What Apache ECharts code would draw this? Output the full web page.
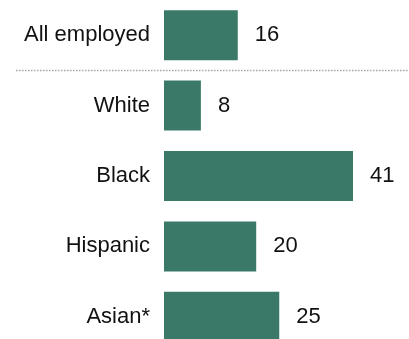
<!DOCTYPE html>
<html>
<head>
<meta charset="utf-8">
<style>
  html, body { margin: 0; padding: 0; background: #ffffff; }
  #chart { width: 409px; height: 339px; }
</style>
<script src="https://cdn.jsdelivr.net/npm/echarts@6/dist/echarts.min.js"></script>
</head>
<body>
<div id="chart"></div>
<script>
// Share of each group, in percent
const categories = ['All employed', 'White', 'Black', 'Hispanic', 'Asian*'];
const values = [16, 8, 41, 20, 25];

const FONT = '"Liberation Sans", Arial, sans-serif';
const BAR = '#3a7867';

const chart = echarts.init(document.getElementById('chart'), null, { renderer: 'canvas' });

chart.setOption({
  animation: false,
  backgroundColor: '#ffffff',
  // the last row runs a little past the bottom edge
  grid: {
    left: 164, top: 0, width: 230.5, height: 352,
    containLabel: false,
    outerBoundsMode: 'none'
  },
  xAxis: {
    type: 'value',
    min: 0,
    max: 50,
    show: false
  },
  yAxis: {
    type: 'category',
    data: categories,
    inverse: true,
    axisLine: { show: false },
    axisTick: { show: false },
    splitLine: { show: false },
    axisLabel: {
      margin: 14,
      color: '#111',
      fontFamily: FONT,
      fontSize: 22
    }
  },
  series: [{
    type: 'bar',
    data: values,
    barWidth: 50,
    itemStyle: { color: BAR },
    label: {
      show: true,
      position: 'right',
      distance: 17,
      color: '#111',
      fontFamily: FONT,
      fontSize: 22
    }
  }],
  graphic: [{
    type: 'line',
    shape: { x1: 16, y1: 70.5, x2: 409, y2: 70.5 },
    style: { stroke: '#a3a3a3', lineWidth: 1.5, lineDash: [1.5, 1.5] },
    silent: true
  }]
});
</script>
</body>
</html>
